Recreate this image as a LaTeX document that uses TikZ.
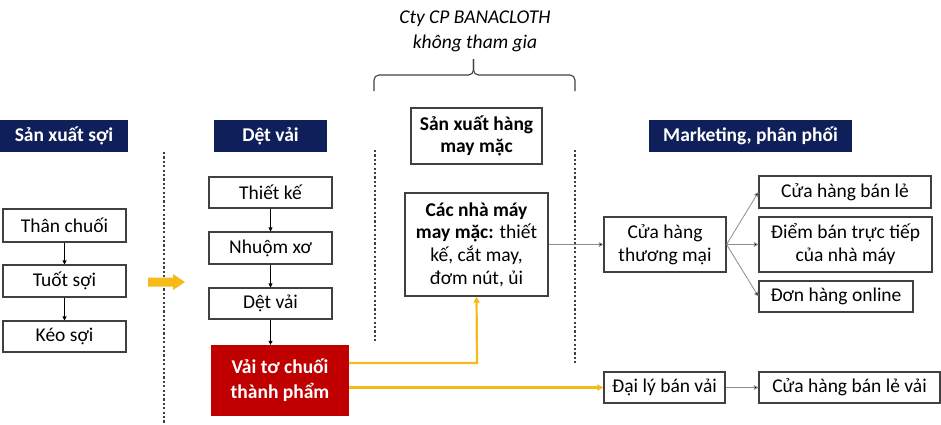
\documentclass[tikz,border=0pt]{standalone}
\usepackage{fontspec}
\setmainfont{Carlito}
\usetikzlibrary{arrows.meta,calc}
\definecolor{navy}{HTML}{0F1F5A}
\definecolor{darkred}{HTML}{C00000}
\definecolor{gold}{HTML}{F7BA1B}
\definecolor{boxline}{HTML}{404040}
\definecolor{conn}{HTML}{8C8C8C}
\tikzset{
  stepbox/.style={draw=boxline,line width=1.1pt,fill=white,font=\fontsize{19.5}{23}\selectfont,align=center,inner sep=0pt},
  header/.style={fill=navy,text=white,font=\bfseries\fontsize{19.5}{23}\selectfont,inner sep=0pt},
  redbox/.style={fill=darkred,text=white,font=\bfseries\fontsize{19.5}{25}\selectfont,align=center,inner sep=0pt},
  divider/.style={line width=1.2pt,dash pattern=on 2.2pt off 2.2pt,draw=boxline},
  vline/.style={line width=0.8pt,draw=black,-{Triangle[length=4pt,width=4pt]}},
  gline/.style={line width=0.8pt,draw=conn,-{Triangle[length=4.5pt,width=4.5pt,fill=black]}},
  yline/.style={line width=2.2pt,draw=gold,-{Triangle[length=6pt,width=6pt]}},
}
\begin{document}
\begin{tikzpicture}[x=1pt,y=-1pt]
\useasboundingbox (0,0) rectangle (941,424);
% dividers
\draw[divider] (164,152) -- (164,423);
\draw[divider] (375,150) -- (375,342);
\draw[divider] (575,150) -- (575,365);
% headers
\node[header,minimum width=128pt,minimum height=32pt] (h1) at (64,136) {Sản xuất sợi};
\node[header,minimum width=113pt,minimum height=32pt] (h2) at (270.5,136) {Dệt vải};
\node[header,minimum width=203pt,minimum height=32pt] (h4) at (750.5,136) {Marketing, phân phối};
\node[stepbox,font=\bfseries\fontsize{19.5}{22}\selectfont,minimum width=131pt,minimum height=56pt] (h3) at (476.5,136) {Sản xuất hàng\\may mặc};
% title and brace
\node[font=\itshape\fontsize{19.5}{25}\selectfont,align=center] (title) at (475,31) {Cty CP BANACLOTH\\không tham gia};
\coordinate (bl) at (374,91);
\coordinate (br) at (575,91);
\coordinate (bt) at (473.5,59);
\draw[line width=1.1pt,draw=boxline,rounded corners=5pt] (bl) -- (bl|-0,75) -- (bt|-0,75) -- (bt);
\draw[line width=1.1pt,draw=boxline,rounded corners=5pt] (br) -- (br|-0,75) -- (bt|-0,75) -- (bt);
% column 1
\node[stepbox,minimum width=123pt,minimum height=33pt] (a1) at (64.5,225.5) {Thân chuối};
\node[stepbox,minimum width=123pt,minimum height=32pt] (a2) at (64.5,281) {Tuốt sợi};
\node[stepbox,minimum width=123pt,minimum height=31pt] (a3) at (64.5,336.5) {Kéo sợi};
\draw[vline] (a1) -- (a2);
\draw[vline] (a2) -- (a3);
% column 2
\node[stepbox,minimum width=123pt,minimum height=31pt] (b1) at (270.5,192.5) {Thiết kế};
\node[stepbox,minimum width=123pt,minimum height=32pt] (b2) at (270.5,248) {Nhuộm xơ};
\node[stepbox,minimum width=123pt,minimum height=31pt] (b3) at (270.5,303.5) {Dệt vải};
\node[redbox,minimum width=138pt,minimum height=71pt] (b4) at (280,380.5) {Vải tơ chuối\\thành phẩm};
\draw[vline] (b1) -- (b2);
\draw[vline] (b2) -- (b3);
\draw[vline] (b3.south) -- (b3.south|-b4.north);
% big yellow arrow
\fill[gold] (148,277.5) -- (173,277.5) -- (173,274) -- (185,282) -- (173,290) -- (173,286.5) -- (148,286.5) -- cycle;
% column 3
\node[stepbox,minimum width=143pt,minimum height=103pt,font=\fontsize{19.5}{22.7}\selectfont] (c1) at (476.5,244.5) {\textbf{Các nhà máy}\\\textbf{may mặc:} thiết\\kế, cắt may,\\đơm nút, ủi};
% column 4
\node[stepbox,minimum width=122pt,minimum height=55pt] (d1) at (665,244.5) {Cửa hàng\\thương mại};
\node[stepbox,minimum width=172pt,minimum height=32pt] (e1) at (845,192) {Cửa hàng bán lẻ};
\node[stepbox,minimum width=173pt,minimum height=55pt] (e2) at (845.5,244.5) {Điểm bán trực tiếp\\của nhà máy};
\node[stepbox,minimum width=154pt,minimum height=31pt] (e3) at (836,296.5) {Đơn hàng online};
\node[stepbox,minimum width=121pt,minimum height=31pt] (f1) at (664.5,387.5) {Đại lý bán vải};
\node[stepbox,minimum width=181pt,minimum height=31pt] (f2) at (849.5,387.5) {Cửa hàng bán lẻ vải};
\draw[gline] (c1.east) -- (d1.west);
\draw[gline] (d1.east) -- (e1.west);
\draw[gline] (d1.east) -- (e2.west);
\draw[gline] (d1.east) -- (e3.west);
\draw[gline] (f1) -- (f2);
% yellow connectors
\draw[yline] (b4.east|-0,363) -- (477,363) -- (c1.south);
\draw[yline] (b4.east|-0,387.5) -- (f1.west);
\end{tikzpicture}
\end{document}
